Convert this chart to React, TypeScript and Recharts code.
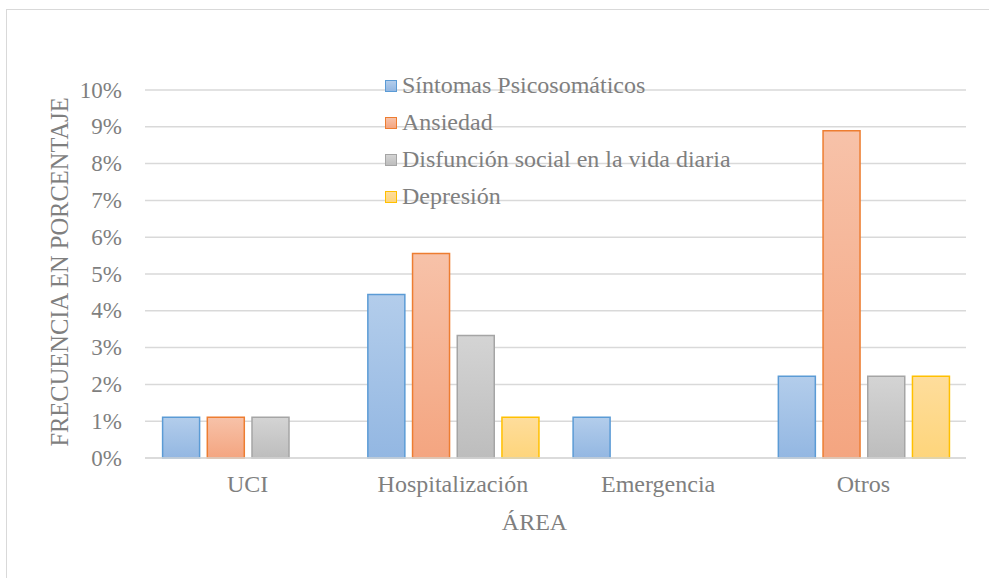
import React from "react";
import { BarChart, Bar, XAxis, YAxis, CartesianGrid, Label } from "recharts";

const categories = ["UCI", "Hospitalización", "Emergencia", "Otros"];
const sintomas = [1.11, 4.44, 1.11, 2.22];
const ansiedad = [1.11, 5.56, 0, 8.89];
const disfuncion = [1.11, 3.33, 0, 2.22];
const depresion = [0, 1.11, 0, 2.22];
const yTicks = [0, 1, 2, 3, 4, 5, 6, 7, 8, 9, 10];

const series = [
  { key: "sintomas", name: "Síntomas Psicosomáticos", stroke: "#5B9BD5", top: "#B3CDEB", bottom: "#93B7E2" },
  { key: "ansiedad", name: "Ansiedad", stroke: "#ED7D31", top: "#F7C2A9", bottom: "#F4A580" },
  { key: "disfuncion", name: "Disfunción social en la vida diaria", stroke: "#A5A5A5", top: "#D4D4D4", bottom: "#BDBDBD" },
  { key: "depresion", name: "Depresión", stroke: "#FFC000", top: "#FEDD9C", bottom: "#FED57B" },
];

const data = categories.map((c, i) => ({
  name: c,
  sintomas: sintomas[i],
  ansiedad: ansiedad[i],
  disfuncion: disfuncion[i],
  depresion: depresion[i],
}));

const FONT = "Liberation Serif";
const TXT = "#7F7F7F";

const XTick = ({ x, y, payload }: any) => (
  <text x={x} y={y} dy={16} textAnchor="middle" fill={TXT} fontSize={24} fontFamily={FONT}>
    {payload.value}
  </text>
);

const YTick = ({ x, y, payload }: any) => (
  <text x={x} y={y} textAnchor="end" dominantBaseline="central" fill={TXT} fontSize={23} fontFamily={FONT}>
    {`${payload.value}%`}
  </text>
);

export default function App() {
  return (
    <div
      style={{
        position: "absolute",
        left: 0,
        top: 0,
        width: 989,
        height: 578,
        background: "#fff",
        overflow: "hidden",
        fontFamily: FONT,
      }}
    >
      <div
        style={{
          position: "absolute",
          left: 6,
          top: 9,
          width: 1000,
          height: 600,
          borderLeft: "1.5px solid #D9D9D9",
          borderTop: "1.5px solid #D9D9D9",
        }}
      />
      <div style={{ position: "absolute", left: 0, top: 0 }}>
        <BarChart
          width={989}
          height={578}
          data={data}
          margin={{ top: 90, right: 23, bottom: 90, left: 0 }}
          barCategoryGap={17.6}
          barGap={7.7}
        >
          <defs>
            {series.map((s) => (
              <linearGradient key={s.key} id={`g-${s.key}`} x1="0" y1="0" x2="0" y2="1">
                <stop offset="0%" stopColor={s.top} />
                <stop offset="100%" stopColor={s.bottom} />
              </linearGradient>
            ))}
          </defs>
          <CartesianGrid vertical={false} stroke="#D9D9D9" strokeWidth={1.5} />
          <XAxis
            dataKey="name"
            height={30}
            axisLine={{ stroke: "#D9D9D9", strokeWidth: 1.5 }}
            tickLine={false}
            tickSize={0}
            tickMargin={18}
            tick={<XTick />}
            interval={0}
          >
            <Label
              content={({ viewBox }: any) => (
                <text
                  x={viewBox.x + viewBox.width / 2 - 21}
                  y={viewBox.y + 64}
                  textAnchor="middle"
                  dominantBaseline="central"
                  fill={TXT}
                  fontSize={24}
                  fontFamily={FONT}
                >
                  ÁREA
                </text>
              )}
            />
          </XAxis>
          <YAxis
            width={145}
            domain={[0, 10]}
            ticks={yTicks}
            interval={0}
            axisLine={false}
            tickLine={false}
            tickSize={0}
            tickMargin={23}
            tick={<YTick />}
          >
            <Label
              content={({ viewBox }: any) => {
                const cx = viewBox.x + 59;
                const cy = viewBox.y + viewBox.height / 2 - 2;
                return (
                  <text
                    x={cx}
                    y={cy}
                    transform={`rotate(-90, ${cx}, ${cy})`}
                    textAnchor="middle"
                    dominantBaseline="central"
                    fill={TXT}
                    fontSize={24.5}
                    fontFamily={FONT}
                  >
                    FRECUENCIA EN PORCENTAJE
                  </text>
                );
              }}
            />
          </YAxis>
          {series.map((s) => (
            <Bar
              key={s.key}
              dataKey={s.key}
              name={s.name}
              fill={`url(#g-${s.key})`}
              stroke={s.stroke}
              strokeWidth={1.5}
              isAnimationActive={false}
            />
          ))}
        </BarChart>
      </div>
      <div
        style={{
          position: "absolute",
          left: 385,
          top: 67,
          fontFamily: FONT,
          fontSize: 24,
          color: TXT,
          lineHeight: "37px",
        }}
      >
        {series.map((s) => (
          <div key={s.key} style={{ height: 37, display: "flex", alignItems: "center", whiteSpace: "nowrap" }}>
            <span
              style={{
                display: "inline-block",
                width: 10,
                height: 10,
                border: `1.5px solid ${s.stroke}`,
                background: `linear-gradient(${s.top}, ${s.bottom})`,
                marginRight: 5,
              }}
            />
            <span>{s.name}</span>
          </div>
        ))}
      </div>
    </div>
  );
}
